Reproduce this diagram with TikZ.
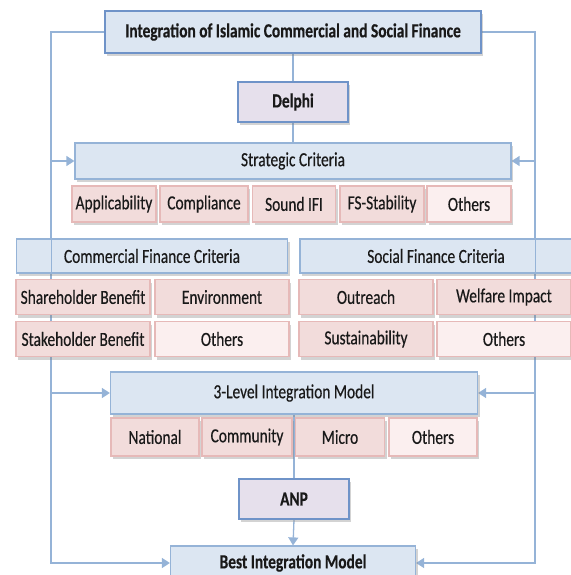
\documentclass[tikz,border=0pt]{standalone}
\usepackage{fontspec}
\setmainfont{Carlito}[FakeStretch=0.77,FakeBold=0.4]
\usetikzlibrary{shadows,arrows.meta,backgrounds}

\definecolor{hdrblue}{HTML}{DCE6F2}
\definecolor{lineblue}{HTML}{95B3D7}
\definecolor{darkblue}{HTML}{6F93C8}
\definecolor{pinkfill}{HTML}{F2DCDB}
\definecolor{pinkline}{HTML}{E6B9B8}
\definecolor{palepink}{HTML}{FBEFEF}
\definecolor{lavender}{HTML}{E6E0EC}

\tikzset{
  box/.style={draw, line width=1.2pt, inner sep=0pt, text=black!90,
    font=\fontsize{20}{23}\selectfont,
    drop shadow={shadow xshift=2pt, shadow yshift=-3pt, opacity=0.35}},
  header/.style={box, draw=lineblue, fill=hdrblue},
  item/.style={box, draw=pinkline, fill=pinkfill},
  other/.style={box, draw=pinkline, fill=palepink},
  method/.style={box, draw=darkblue, line width=1.6pt, fill=lavender,
    font=\fontsize{20}{23}\selectfont\bfseries},
  link/.style={draw=lineblue, line width=1.3pt},
  arr/.style={link, -{Triangle[width=10pt,length=8pt]}},
}

\begin{document}
\begin{tikzpicture}[x=1pt,y=-1pt]
  \useasboundingbox (0,0) rectangle (570,575);

  % top and methods
  \node[header, draw=darkblue, line width=1.6pt, minimum width=376, minimum height=42,
    font=\fontsize{20}{23}\selectfont\bfseries] (title) at (293,32)
    {Integration of Islamic Commercial and Social Finance};
  \node[method, minimum width=110, minimum height=40] (delphi) at (293,102) {Delphi};

  % strategic criteria
  \node[header, minimum width=436, minimum height=36] (strat) at (293,161) {Strategic Criteria};
  \node[item, minimum width=84, minimum height=36] (appl) at (114,204) {Applicability};
  \node[item, minimum width=88, minimum height=36] (compl) at (204,204) {Compliance};
  \node[item, minimum width=83, minimum height=36] (sifi) at (294,204) {Sound IFI};
  \node[item, minimum width=84, minimum height=36] (fsst) at (382,204) {FS-Stability};
  \node[other, minimum width=84, minimum height=36] (oth1) at (469,204) {Others};

  % commercial and social criteria
  \node[header, minimum width=271, minimum height=34] (comm) at (152,256) {Commercial Finance Criteria};
  \node[header, minimum width=272, minimum height=34] (soc) at (436,256) {Social Finance Criteria};
  \node[item, minimum width=134, minimum height=35] (shben) at (83,297) {Shareholder Benefit};
  \node[item, minimum width=134, minimum height=35] (envir) at (222,297) {Environment};
  \node[item, minimum width=134, minimum height=35] (outr) at (366,297) {Outreach};
  \node[item, minimum width=134, minimum height=35] (welf) at (504,297) {Welfare Impact};
  \node[item, minimum width=134, minimum height=35] (stben) at (83,339) {Stakeholder Benefit};
  \node[other, minimum width=134, minimum height=35] (oth2) at (222,339) {Others};
  \node[item, minimum width=134, minimum height=35] (sust) at (366,339) {Sustainability};
  \node[other, minimum width=134, minimum height=35] (oth3) at (504,339) {Others};

  % integration model
  \node[header, minimum width=367, minimum height=42] (level) at (294,393) {3-Level Integration Model};
  \node[item, minimum width=88, minimum height=38] (natl) at (155,437) {National};
  \node[item, minimum width=90, minimum height=38] (commu) at (247,437) {Community};
  \node[item, minimum width=89, minimum height=38] (micro) at (340,437) {Micro};
  \node[other, minimum width=88, minimum height=38] (oth4) at (433,437) {Others};

  \node[method, minimum width=110, minimum height=40] (anp) at (294,499) {ANP};
  \node[header, minimum width=245, minimum height=34,
    font=\fontsize{20}{23}\selectfont\bfseries] (best) at (293,563) {Best Integration Model};

  % connectors
  \coordinate (lrail) at (51,0);
  \coordinate (rrail) at (535,0);
  \begin{scope}[on background layer]
    \draw[arr] (title.west) -- (lrail |- title.west) |- (best.west);
    \draw[arr] (title.east) -- (rrail |- title.east) |- (best.east);
    \draw[arr] (lrail |- strat.west) -- (strat.west);
    \draw[arr] (rrail |- strat.east) -- (strat.east);
    \draw[arr] (lrail |- level.west) -- (level.west);
    \draw[arr] (rrail |- level.east) -- (level.east);
    \draw[link] (title.south) -- (strat.north);
    \draw[link] (level.south) -- (anp.north);
    \draw[arr] (anp.south) -- (best.north);
  \end{scope}
  % rails show through the criteria headers
  \draw[link, line width=0.8pt] (lrail |- comm.north) -- (lrail |- comm.south);
  \draw[link, line width=0.8pt] (rrail |- soc.north) -- (rrail |- soc.south);
\end{tikzpicture}
\end{document}
